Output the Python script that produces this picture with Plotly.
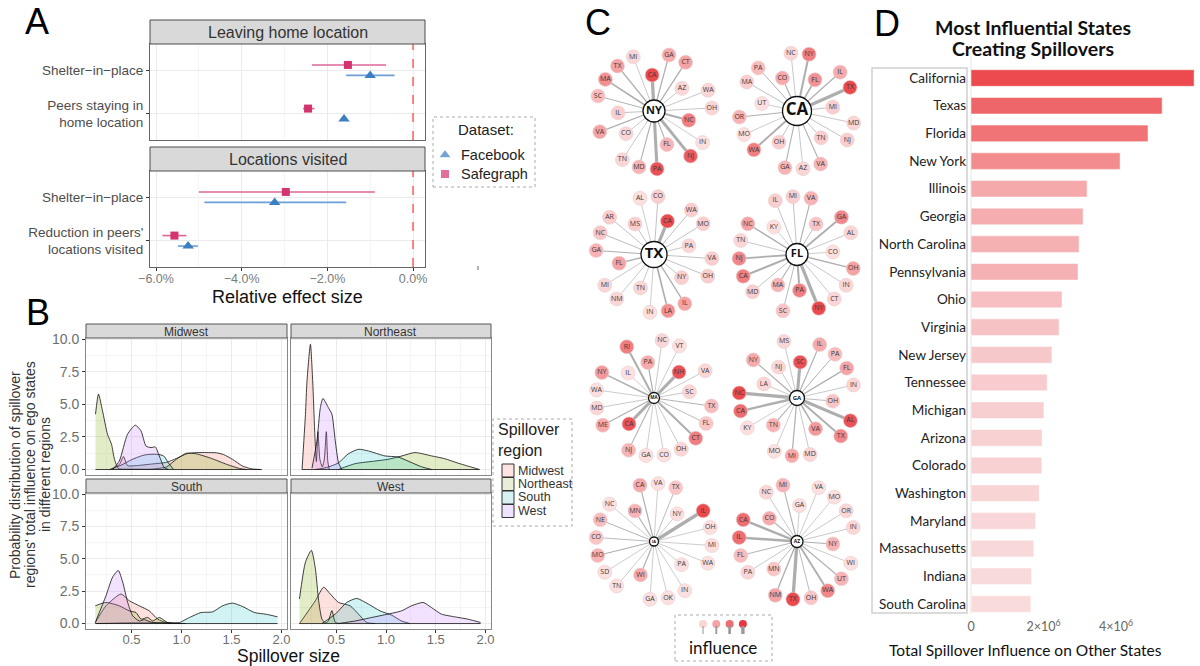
import math
import plotly.graph_objects as go

W, H = 1200, 666


def PX(x):
    return x / W


def PY(y):
    return 1 - y / H


FONT = "Liberation Sans"
FONT_D = "Lato"

# ---------------- Panel A data ----------------
A_FACETS = ["Leaving home location", "Locations visited"]
A_CATS = [["Shelter\u2212in\u2212place", "Peers staying in<br>home location"],
          ["Shelter\u2212in\u2212place", "Reduction in peers'<br>locations visited"]]
FB_EST = [[-1.00, -1.61], [-3.23, -5.25]]
FB_LO = [[-1.56, -1.66], [-4.87, -5.49]]
FB_HI = [[-0.43, -1.56], [-1.56, -5.02]]
SG_EST = [[-1.52, -2.45], [-2.97, -5.57]]
SG_LO = [[-2.36, -2.57], [-5.00, -5.85]]
SG_HI = [[-0.63, -2.30], [-0.89, -5.29]]
A_XTICKS = [-6, -4, -2, 0]
A_XTICKTEXT = ["\u22126.0%", "\u22124.0%", "\u22122.0%", "0.0%"]
A_SERIES = ["Facebook", "Safegraph"]

# ---------------- Panel B data ----------------
B_FACETS = ["Midwest", "Northeast", "South", "West"]
B_REGIONS = ["Midwest", "Northeast", "South", "West"]
B_MIDWEST = {
    "Midwest": ([0.30, 0.38, 0.42, 0.46, 0.55, 0.70, 0.85, 0.95, 1.05, 1.15, 1.25, 1.35, 1.42, 1.51, 1.61, 1.70, 1.80],
                [0, 0.4, 1.0, 0.3, 0.3, 0.42, 0.55, 0.85, 1.2, 1.3, 1.3, 1.28, 1.15, 0.78, 0.27, 0.05, 0]),
    "Northeast": ([0.14, 0.17, 0.21, 0.26, 0.30, 0.33, 0.37, 0.50, 0.70, 0.85, 0.95, 1.05, 1.15, 1.30, 1.45, 1.58, 1.65],
                  [4.24, 5.78, 4.5, 2.7, 1.94, 0.78, 0.08, 0.03, 0.03, 0.2, 0.8, 1.25, 1.2, 0.85, 0.4, 0.08, 0]),
    "South": ([0.28, 0.40, 0.50, 0.60, 0.66, 0.75, 0.82, 0.87, 0.92],
              [0, 0.35, 0.75, 1.05, 1.15, 1.17, 1.05, 0.5, 0]),
    "West": ([0.31, 0.378, 0.46, 0.538, 0.595, 0.645, 0.695, 0.738, 0.778, 0.828, 0.87],
             [0, 0.65, 2.7, 3.4, 2.96, 1.8, 1.68, 1.73, 1.04, 0.14, 0]),
}
B_NORTHEAST = {
    "Midwest": ([0.156, 0.19, 0.206, 0.24, 0.263, 0.283, 0.30, 0.316, 0.335, 0.36, 0.38, 0.40, 0.415, 0.43],
                [0, 4.2, 6.8, 9.6, 6.8, 2.96, 0.6, 2.9, 0.8, 0.2, 0.8, 2.9, 0.6, 0]),
    "Northeast": ([0.52, 0.69, 0.89, 1.02, 1.16, 1.29, 1.46, 1.59, 1.72, 1.82, 1.94],
                  [0, 0.45, 0.65, 0.78, 1.04, 1.3, 1.04, 0.83, 0.5, 0.27, 0]),
    "South": ([0.29, 0.40, 0.52, 0.62, 0.723, 0.823, 0.99, 1.12, 1.22, 1.36, 1.46],
              [0, 0.15, 0.5, 1.2, 1.55, 1.42, 1.04, 0.96, 0.65, 0.2, 0]),
    "West": ([0.256, 0.306, 0.34, 0.366, 0.396, 0.42, 0.456, 0.49, 0.523, 0.556],
             [0.1, 2.2, 4.75, 5.45, 5.1, 4.75, 4.24, 2.2, 0.5, 0]),
}
B_SOUTH = {
    "Midwest": ([0.138, 0.245, 0.395, 0.478, 0.578, 0.678, 0.762, 0.845, 0.98],
                [0.08, 1.37, 2.28, 1.76, 1.37, 0.98, 0.34, 0.08, 0]),
    "Northeast": ([0.138, 0.245, 0.378, 0.478, 0.545, 0.595, 0.662, 0.712, 0.778, 0.862, 1.045],
                  [1.37, 1.63, 1.37, 0.98, 0.85, 0.34, 0.47, 0.2, 0.47, 0.08, 0]),
    "South": ([0.14, 0.5, 0.9, 0.98, 1.08, 1.195, 1.31, 1.41, 1.51, 1.61, 1.73, 1.845, 1.96],
              [0, 0.05, 0.05, 0.08, 0.47, 0.85, 0.9, 1.37, 1.58, 1.32, 0.85, 0.72, 0.52]),
    "West": ([0.138, 0.245, 0.312, 0.368, 0.412, 0.462, 0.512, 0.578, 0.628, 0.7, 0.8, 0.9],
             [0.08, 2.15, 3.6, 4.1, 3.2, 1.63, 0.6, 0.2, 0.3, 0.1, 0.05, 0]),
}
B_WEST = {
    "Midwest": ([0.13, 0.29, 0.373, 0.44, 0.523, 0.64, 0.723, 0.806, 0.89],
                [0, 1.76, 2.8, 2.28, 1.63, 1.37, 0.73, 0.08, 0]),
    "Northeast": ([0.13, 0.19, 0.25, 0.29, 0.323, 0.356, 0.39, 0.42, 0.456, 0.49, 0.53],
                  [1.9, 4.74, 5.65, 4.22, 1.76, 0.34, 0.05, 0.2, 1.0, 0.1, 0]),
    "South": ([0.356, 0.49, 0.606, 0.706, 0.823, 0.94, 1.056, 1.156, 1.24],
              [0, 0.73, 1.63, 1.94, 1.5, 0.98, 0.65, 0.2, 0]),
    "West": ([0.52, 0.69, 0.856, 1.02, 1.156, 1.256, 1.373, 1.456, 1.556, 1.69, 1.823, 1.95],
             [0, 0.2, 0.47, 0.73, 0.98, 1.37, 1.63, 1.24, 0.73, 0.52, 0.34, 0.08]),
}
B_DATA = [B_MIDWEST, B_NORTHEAST, B_SOUTH, B_WEST]
B_XTICKS = [0.5, 1.0, 1.5, 2.0]
B_YTICKS = [0, 2.5, 5, 7.5, 10]

# ---------------- Panel C data ----------------
C_EGOS = ["NY", "CA", "TX", "FL", "MA", "GA", "IA", "AZ"]
C_NEIGHBORS = {
    "NY": ["GA", "CT", "AZ", "WA", "OH", "NC", "IN", "NJ", "FL", "PA", "MD", "TN", "CO", "VA", "IL", "SC", "MA", "TX", "MI", "CA"],
    "CA": ["NY", "FL", "IL", "TX", "MI", "MD", "NJ", "TN", "VA", "AZ", "GA", "OH", "WA", "MO", "OR", "UT", "MA", "PA", "CO", "NC"],
    "TX": ["CO", "CA", "WA", "MO", "PA", "VA", "OH", "NY", "IL", "LA", "IN", "TN", "NM", "MI", "FL", "GA", "NC", "AR", "MS", "AL"],
    "FL": ["VA", "TX", "GA", "AL", "CO", "OH", "IN", "CT", "NY", "PA", "SC", "MA", "MD", "CA", "NJ", "TN", "NC", "KY", "IL", "MI"],
    "MA": ["NC", "VT", "NH", "VA", "SC", "TX", "FL", "CT", "OH", "CO", "GA", "NJ", "CA", "ME", "MD", "WA", "NY", "IL", "RI", "PA"],
    "GA": ["SC", "IL", "PA", "FL", "IN", "OH", "AL", "TX", "VA", "MD", "MI", "MO", "TN", "KY", "CA", "NC", "LA", "NY", "NJ", "MS"],
    "IA": ["VA", "TX", "NY", "IL", "OH", "MI", "WA", "PA", "IN", "OK", "GA", "WI", "TN", "SD", "MO", "CO", "NE", "NC", "MN", "CA"],
    "AZ": ["GA", "VA", "MO", "OR", "IN", "NY", "WI", "UT", "WA", "OH", "TX", "NM", "MN", "PA", "FL", "IL", "CA", "CO", "NC", "MI"],
}
C_INFLUENCE = {
    "NY": [0.35, 0.4, 0.1, 0.1, 0.1, 0.6, 0.05, 0.8, 0.3, 0.85, 0.3, 0.1, 0.1, 0.4, 0.15, 0.25, 0.5, 0.4, 0.1, 0.9],
    "CA": [0.6, 0.5, 0.35, 0.9, 0.15, 0.1, 0.15, 0.15, 0.3, 0.1, 0.3, 0.15, 0.6, 0.05, 0.3, 0.05, 0.15, 0.25, 0.35, 0.1],
    "TX": [0.15, 0.9, 0.15, 0.15, 0.1, 0.15, 0.15, 0.15, 0.4, 0.5, 0.05, 0.1, 0.1, 0.1, 0.4, 0.3, 0.2, 0.15, 0.15, 0.05],
    "FL": [0.3, 0.2, 0.55, 0.1, 0.05, 0.4, 0.1, 0.1, 0.9, 0.6, 0.2, 0.3, 0.15, 0.6, 0.55, 0.1, 0.4, 0.05, 0.15, 0.15],
    "MA": [0.1, 0.05, 0.85, 0.1, 0.1, 0.25, 0.2, 0.6, 0.1, 0.05, 0.05, 0.3, 0.85, 0.35, 0.1, 0.05, 0.45, 0.05, 0.6, 0.35],
    "GA": [0.85, 0.35, 0.25, 0.4, 0.1, 0.2, 0.85, 0.55, 0.45, 0.1, 0.35, 0.05, 0.3, 0.05, 0.7, 0.9, 0.1, 0.35, 0.1, 0.1],
    "IA": [0.05, 0.2, 0.05, 0.9, 0.05, 0.05, 0.05, 0.05, 0.05, 0.05, 0.05, 0.35, 0.05, 0.05, 0.3, 0.2, 0.25, 0.05, 0.3, 0.35],
    "AZ": [0.05, 0.05, 0.05, 0.1, 0.1, 0.3, 0.05, 0.3, 0.55, 0.2, 0.9, 0.4, 0.2, 0.1, 0.25, 0.7, 0.7, 0.35, 0.1, 0.3],
}
C_LEGEND_LEVELS = [0.1, 0.4, 0.7, 1.0]

# ---------------- Panel D data ----------------
D_STATES = ["California", "Texas", "Florida", "New York", "Illinois", "Georgia", "North Carolina",
            "Pennsylvania", "Ohio", "Virginia", "New Jersey", "Tennessee", "Michigan", "Arizona",
            "Colorado", "Washington", "Maryland", "Massachusetts", "Indiana", "South Carolina"]
D_VALUES = [6.15e6, 5.27e6, 4.88e6, 4.11e6, 3.20e6, 3.09e6, 2.98e6, 2.95e6, 2.51e6, 2.43e6,
            2.23e6, 2.10e6, 2.01e6, 1.96e6, 1.95e6, 1.88e6, 1.78e6, 1.73e6, 1.67e6, 1.65e6]
D_XTICKS = [0, 2e6, 4e6]
D_XTICKTEXT = ["0", "2\u00d710<sup>6</sup>", "4\u00d710<sup>6</sup>"]

# ---------------- styles / layout params ----------------
FB_COLOR, FB_ERR = "#3b7ec2", "#6c9fd6"
SG_COLOR, SG_ERR = "#d3336f", "#de6497"
B_FILLS = {"Midwest": "rgba(248,118,109,0.22)", "Northeast": "rgba(124,174,0,0.22)",
           "South": "rgba(0,191,196,0.18)", "West": "rgba(199,124,255,0.22)"}
B_SWATCH = {"Midwest": "#fde3e1", "Northeast": "#e8efd6", "South": "#d7f1f2", "West": "#f0e3fd"}

C_GRID_X0, C_GRID_DX = 654, 143
C_GRID_Y0, C_GRID_DY = 111, 143.5
C_R_OUT, C_R_IN = 58, 36
C_ROT = {"NY": 15, "CA": 12, "TX": 4, "FL": 14, "MA": 8, "GA": 5, "IA": 4, "AZ": 4}
C_RING = {
    "NY": "ooiooiooioooioioooo" + "i",
    "CA": "oiooiooioooioooiooio",
    "TX": "oiooioo" + "ioooiooio" + "ooio",
    "FL": "oiooiooooioioooooioo",
    "MA": "ooioioooooooiooooioi",
    "GA": "iooooiooioooioooioio",
    "IA": "ooiooooioooiooooooio",
    "AZ": "iooooiooooooiooooioo",
}
C_EGO_SIZE = {"NY": 22, "CA": 29, "TX": 26, "FL": 22, "MA": 11, "GA": 15, "IA": 9, "AZ": 12}
C_EGO_FONT = {"NY": 11, "CA": 17, "TX": 15, "FL": 11, "MA": 4.5, "GA": 6, "IA": 4, "AZ": 5}


def hex2rgb(h):
    h = h.lstrip("#")
    return tuple(int(h[i:i + 2], 16) for i in (0, 2, 4))


def lerp(c1, c2, t):
    a, b = hex2rgb(c1), hex2rgb(c2)
    return "rgb(%d,%d,%d)" % tuple(round(a[i] + (b[i] - a[i]) * t) for i in range(3))


def node_color(t):
    return lerp("#fde8e8", "#e8383d", t)


fig = go.Figure()
shapes, annos = [], []


def note(text, x, y, size, color="#111", family=FONT, xanchor="center", **kw):
    annos.append(dict(text=text, x=PX(x), y=PY(y), xref="paper", yref="paper", showarrow=False,
                      xanchor=xanchor, yanchor="middle", font=dict(family=family, size=size, color=color), **kw))


# ================= Panel A =================
for f in range(2):
    xa = "x" if f == 0 else "x2"
    ya = "y" if f == 0 else "y2"
    for name, est, lo, hi, col, ecol, sym, size, off in [
        ("Safegraph", SG_EST[f], SG_LO[f], SG_HI[f], SG_COLOR, SG_ERR, "square", 8, -0.12),
        ("Facebook", FB_EST[f], FB_LO[f], FB_HI[f], FB_COLOR, FB_ERR, "triangle-up", 10, 0.12),
    ]:
        fig.add_trace(go.Scatter(
            x=est, y=[1 + off, 2 + off], xaxis=xa, yaxis=ya, mode="markers",
            marker=dict(symbol=sym, size=size, color=col, line=dict(width=0)),
            error_x=dict(type="data", symmetric=False,
                         array=[h - e for h, e in zip(hi, est)],
                         arrayminus=[e - l for e, l in zip(est, lo)],
                         color=ecol, thickness=1.6, width=0),
            showlegend=False, hoverinfo="skip"))
    shapes.append(dict(type="line", xref=xa, yref=ya + " domain", x0=0, x1=0, y0=0, y1=1,
                       line=dict(color="#ff2a2a", width=1.1, dash="dash")))

a_panels = [(44, 140, 20), (171, 267, 147)]
for f, (top, bot, stop) in enumerate(a_panels):
    shapes.append(dict(type="rect", xref="paper", yref="paper", x0=PX(150), x1=PX(425),
                       y0=PY(top), y1=PY(stop), fillcolor="#d9d9d9", line=dict(color="#4d4d4d", width=1)))
    note(A_FACETS[f], 287.5, (top + stop) / 2, 16, "#333")

# Panel A legend
shapes.append(dict(type="rect", xref="paper", yref="paper", x0=PX(433), x1=PX(535), y0=PY(187), y1=PY(117),
                   line=dict(color="#aaaaaa", width=1, dash="dot")))
note("Dataset:", 486, 129, 15, "#222")
fig.add_trace(go.Scatter(x=[445, 445], y=[155, 174], xaxis="x8", yaxis="y8", mode="markers",
                         marker=dict(symbol=["triangle-up", "square"], size=[11, 9], color=[FB_COLOR, SG_COLOR]),
                         showlegend=False, hoverinfo="skip"))
for lab, yy in zip(A_SERIES, [155, 174]):
    note(lab, 459, yy, 14.5, "#222", xanchor="left")
note("Relative effect size", 287, 297, 18)
shapes.append(dict(type="line", xref="paper", yref="paper", x0=PX(478), x1=PX(478), y0=PY(266), y1=PY(270),
                   line=dict(color="#666", width=1)))

# ================= Panel B =================
b_axes = [("x3", "y3"), ("x4", "y4"), ("x5", "y5"), ("x6", "y6")]
for i, data in enumerate(B_DATA):
    xa, ya = b_axes[i]
    for reg in B_REGIONS:
        xs, ys = data[reg]
        fig.add_trace(go.Scatter(x=xs, y=ys, xaxis=xa, yaxis=ya, mode="lines", fill="tozeroy",
                                 fillcolor=B_FILLS[reg], line=dict(color="#111", width=0.8, shape="spline", smoothing=0.6),
                                 showlegend=False, hoverinfo="skip"))
    fig.add_trace(go.Scatter(x=[min(min(data[r][0]) for r in B_REGIONS), max(max(data[r][0]) for r in B_REGIONS)],
                             y=[0, 0], xaxis=xa, yaxis=ya, mode="lines", line=dict(color="#111", width=0.8),
                             showlegend=False, hoverinfo="skip"))

b_boxes = [(86, 287, 338, 475, 324), (291, 491, 338, 475, 324), (86, 287, 493, 629, 479), (291, 491, 493, 629, 479)]
for i, (x0, x1, t, b, st) in enumerate(b_boxes):
    shapes.append(dict(type="rect", xref="paper", yref="paper", x0=PX(x0), x1=PX(x1), y0=PY(t), y1=PY(st),
                       fillcolor="#d9d9d9", line=dict(color="#555", width=1)))
    note(B_FACETS[i], (x0 + x1) / 2, (t + st) / 2 + 0.5, 12, "#333")

for j, line in enumerate(["Probability distribution of spillover", "regions' total influence on ego states",
                          "in different regions"]):
    note(line, 15 + j * 15, 475, 14, "#333", textangle=-90)
note("Spillover size", 288, 656, 17.5)
# legend B
shapes.append(dict(type="rect", xref="paper", yref="paper", x0=PX(493), x1=PX(572), y0=PY(526), y1=PY(419),
                   line=dict(color="#aaaaaa", width=1, dash="dot")))
note("Spillover<br>region", 496, 440, 16, "#222", xanchor="left", align="left")
for k, reg in enumerate(B_REGIONS):
    yc = 470.5 + k * 13.5
    shapes.append(dict(type="rect", xref="paper", yref="paper", x0=PX(502), x1=PX(514), y0=PY(yc + 6.5),
                       y1=PY(yc - 6.5), fillcolor=B_SWATCH[reg], line=dict(color="#333", width=1)))
    note(reg, 516, yc, 12.5, "#333", xanchor="left")

# ================= Panel C =================
for k, ego in enumerate(C_EGOS):
    cx = C_GRID_X0 + (k % 2) * C_GRID_DX
    cy = C_GRID_Y0 + (k // 2) * C_GRID_DY
    nbs = C_NEIGHBORS[ego]
    infl = C_INFLUENCE[ego]
    n = len(nbs)
    nx, ny = [], []
    for i in range(n):
        ang = math.radians(C_ROT[ego] + i * 360.0 / n)
        r = C_R_OUT if C_RING[ego][i] == "o" else C_R_IN
        nx.append(cx + r * math.sin(ang))
        ny.append(cy - r * math.cos(ang))
    for i in range(n):
        fig.add_trace(go.Scatter(x=[cx, nx[i]], y=[cy, ny[i]], xaxis="x8", yaxis="y8", mode="lines",
                                 line=dict(color="rgba(165,165,165,0.9)", width=0.6 + 3.2 * infl[i] ** 1.6),
                                 showlegend=False, hoverinfo="skip"))
    fig.add_trace(go.Scatter(x=nx, y=ny, xaxis="x8", yaxis="y8", mode="markers+text", text=nbs,
                             textposition="middle center",
                             textfont=dict(family="Open Sans", size=7, color="#3a3a3a"),
                             marker=dict(size=14, color=[node_color(v) for v in infl],
                                         line=dict(color="rgba(235,205,205,1)", width=0.6)),
                             showlegend=False, hoverinfo="skip"))
    fig.add_trace(go.Scatter(x=[cx], y=[cy], xaxis="x8", yaxis="y8", mode="markers+text", text=["<b>%s</b>" % ego],
                             textposition="middle center",
                             textfont=dict(family="Open Sans", size=C_EGO_FONT[ego], color="#111"),
                             marker=dict(size=C_EGO_SIZE[ego], color="white", line=dict(color="#111", width=1.3)),
                             showlegend=False, hoverinfo="skip"))

# influence legend
shapes.append(dict(type="rect", xref="paper", yref="paper", x0=PX(675), x1=PX(772), y0=PY(661), y1=PY(615),
                   line=dict(color="#aaaaaa", width=1, dash="dot")))
leg_x = [703 + 13.3 * i for i in range(4)]
for i, lv in enumerate(C_LEGEND_LEVELS):
    shapes.append(dict(type="line", xref="paper", yref="paper", x0=PX(leg_x[i]), x1=PX(leg_x[i]),
                       y0=PY(634), y1=PY(626), line=dict(color="#999", width=0.8 + 2.6 * lv)))
fig.add_trace(go.Scatter(x=leg_x, y=[624] * 4, xaxis="x8", yaxis="y8", mode="markers",
                         marker=dict(size=8, color=[node_color(v) for v in C_LEGEND_LEVELS]),
                         showlegend=False, hoverinfo="skip"))
note("influence", 723, 647, 17, family=FONT_D)

# ================= Panel D =================
vmin, vmax = min(D_VALUES), max(D_VALUES)
fig.add_trace(go.Bar(x=D_VALUES, y=D_STATES, orientation="h", xaxis="x7", yaxis="y7",
                     marker=dict(color=[lerp("#f9dbdc", "#ec4a4e", (v - vmin) / (vmax - vmin)) for v in D_VALUES],
                                 line=dict(color="rgba(255,255,255,0.5)", width=1)),
                     width=0.6, showlegend=False, hoverinfo="skip"))
shapes.append(dict(type="rect", xref="paper", yref="paper", x0=PX(872), x1=PX(967), y0=PY(613), y1=PY(68),
                   line=dict(color="#d0d0d0", width=1.5), layer="below"))
shapes.append(dict(type="line", xref="paper", yref="paper", x0=PX(971), x1=PX(971), y0=PY(614), y1=PY(55),
                   line=dict(color="#e6e6e6", width=1), layer="below"))
note("<b>Most Influential States</b>", 1033, 27, 19.5, family=FONT_D)
note("<b>Creating Spillovers</b>", 1033, 48, 19.5, family=FONT_D)
note("Total Spillover Influence on Other States", 1025, 650, 15.5, family=FONT_D)

# panel letters
for lab, x, y in [("A", 37, 21), ("B", 38, 312), ("C", 598, 22), ("D", 887, 24)]:
    note(lab, x, y, 36, "#000")

# ================= axes =================
GRID = "#ebebeb"
MINOR = "#f5f5f5"


def a_xaxis(dom, labels, anchor):
    return dict(domain=dom, range=[-6.14, 0.28], anchor=anchor, tickvals=A_XTICKS, ticktext=A_XTICKTEXT,
                showticklabels=labels, ticks="outside" if labels else "", ticklen=3, tickcolor="#333",
                ticklabelstandoff=-3,
                tickfont=dict(family=FONT, size=12.5, color="#7a7a7a"), showgrid=True, gridcolor=GRID,
                minor=dict(tickvals=[-5, -3, -1], showgrid=True, gridcolor=MINOR, ticks=""),
                zeroline=False, showline=True, mirror=True, linecolor="#666", linewidth=1)


def a_yaxis(dom, cats, anchor):
    return dict(domain=dom, range=[2.6, 0.4], anchor=anchor, tickvals=[1, 2], ticktext=cats,
                ticks="outside", ticklen=3, tickcolor="#333",
                tickfont=dict(family=FONT, size=13.5, color="#4d4d4d"), showgrid=True, gridcolor=GRID,
                zeroline=False, showline=True, mirror=True, linecolor="#666", linewidth=1)


def b_xaxis(x0, x1, labels, anchor):
    return dict(domain=[PX(x0), PX(x1)], range=[0.045, 2.055], anchor=anchor, tickvals=B_XTICKS,
                ticktext=["0.5", "1.0", "1.5", "2.0"], showticklabels=labels,
                ticks="outside" if labels else "", ticklen=3, tickcolor="#333", ticklabelstandoff=-5,
                tickfont=dict(family=FONT, size=13, color="#6e6e6e"), showgrid=True, gridcolor=GRID,
                minor=dict(tickvals=[0.25, 0.75, 1.25, 1.75], showgrid=True, gridcolor=MINOR, ticks=""),
                zeroline=False, showline=True, mirror=True, linecolor="#888", linewidth=1)


def b_yaxis(t, b, labels, anchor):
    return dict(domain=[PY(b), PY(t)], range=[-0.42, 10.08], anchor=anchor, tickvals=B_YTICKS,
                ticktext=["0.0", "2.5", "5.0", "7.5", "10.0"], showticklabels=labels,
                ticks="outside" if labels else "", ticklen=3, tickcolor="#333",
                tickfont=dict(family=FONT, size=14, color="#6e6e6e"), showgrid=True, gridcolor=GRID,
                minor=dict(tickvals=[1.25, 3.75, 6.25, 8.75], showgrid=True, gridcolor=MINOR, ticks=""),
                zeroline=False, showline=True, mirror=True, linecolor="#888", linewidth=1)


fig.update_layout(
    width=W, height=H, autosize=False, margin=dict(l=0, r=0, t=0, b=0, autoexpand=False),
    paper_bgcolor="white", plot_bgcolor="rgba(0,0,0,0)", showlegend=False,
    xaxis=a_xaxis([PX(150), PX(425)], False, "y"),
    yaxis=a_yaxis([PY(140), PY(44)], A_CATS[0], "x"),
    xaxis2=a_xaxis([PX(150), PX(425)], True, "y2"),
    yaxis2=a_yaxis([PY(267), PY(171)], A_CATS[1], "x2"),
    xaxis3=b_xaxis(86, 287, False, "y3"), yaxis3=b_yaxis(338, 475, True, "x3"),
    xaxis4=b_xaxis(291, 491, False, "y4"), yaxis4=b_yaxis(338, 475, False, "x4"),
    xaxis5=b_xaxis(86, 287, True, "y5"), yaxis5=b_yaxis(493, 629, True, "x5"),
    xaxis6=b_xaxis(291, 491, True, "y6"), yaxis6=b_yaxis(493, 629, False, "x6"),
    xaxis7=dict(domain=[PX(971), PX(1197)], range=[0, 6.23e6], anchor="y7", tickvals=D_XTICKS,
                ticktext=D_XTICKTEXT, showgrid=False, zeroline=False, showline=False, ticks="",
                tickfont=dict(family=FONT_D, size=12.5, color="#666")),
    yaxis7=dict(domain=[PY(617.8), PY(64.2)], range=[19.5, -0.5], anchor="x7", type="category",
                showgrid=False, zeroline=False, showline=False, ticks="", ticklabelstandoff=4,
                tickfont=dict(family=FONT_D, size=13.5, color="#222")),
    xaxis8=dict(domain=[0, 1], range=[0, W], anchor="y8", visible=False, fixedrange=True),
    yaxis8=dict(domain=[0, 1], range=[H, 0], anchor="x8", visible=False, fixedrange=True),
    shapes=shapes, annotations=annos,
)

fig.write_html("out.html", config={"displayModeBar": False},
               post_script="document.body.style.margin='0';document.body.style.overflow='hidden';")
